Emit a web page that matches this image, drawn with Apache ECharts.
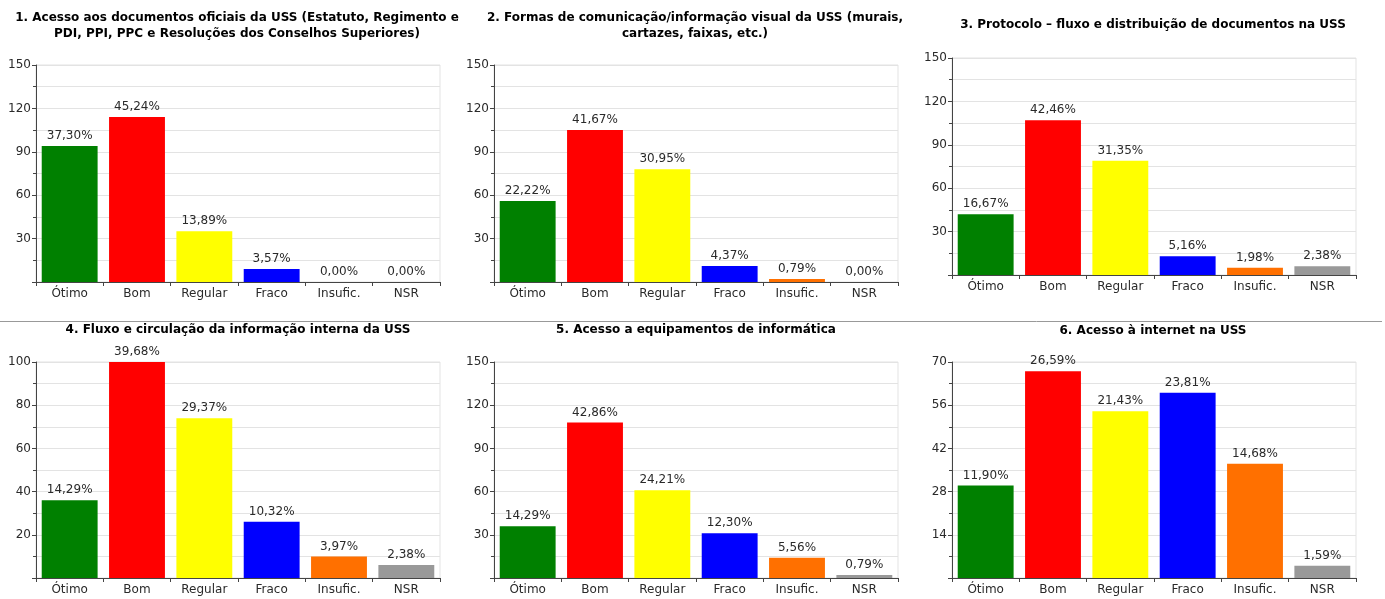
<!DOCTYPE html>
<html>
<head>
<meta charset="utf-8">
<script src="https://cdn.jsdelivr.net/npm/echarts@6/dist/echarts.min.js"></script>
<style>
html,body{margin:0;padding:0;background:#fff;}
#chart{width:1385px;height:599px;}
</style>
</head>
<body>
<div id="chart"></div>
<script>
var categories = ['Ótimo', 'Bom', 'Regular', 'Fraco', 'Insufic.', 'NSR'];
var barColors = ['#008000', '#ff0000', '#ffff00', '#0000ff', '#ff7000', '#999999'];

var titles = [
  '1. Acesso aos documentos oficiais da USS (Estatuto, Regimento e\nPDI, PPI, PPC e Resoluções dos Conselhos Superiores)',
  '2. Formas de comunicação/informação visual da USS (murais,\ncartazes, faixas, etc.)',
  '3. Protocolo – fluxo e distribuição de documentos na USS',
  '4. Fluxo e circulação da informação interna da USS',
  '5. Acesso a equipamentos de informática',
  '6. Acesso à internet na USS'
];

var counts1 = [94, 114, 35, 9, 0, 0];
var counts2 = [56, 105, 78, 11, 2, 0];
var counts3 = [42, 107, 79, 13, 5, 6];
var counts4 = [36, 100, 74, 26, 10, 6];
var counts5 = [36, 108, 61, 31, 14, 2];
var counts6 = [30, 67, 54, 60, 37, 4];

var pct1 = ['37,30%', '45,24%', '13,89%', '3,57%', '0,00%', '0,00%'];
var pct2 = ['22,22%', '41,67%', '30,95%', '4,37%', '0,79%', '0,00%'];
var pct3 = ['16,67%', '42,46%', '31,35%', '5,16%', '1,98%', '2,38%'];
var pct4 = ['14,29%', '39,68%', '29,37%', '10,32%', '3,97%', '2,38%'];
var pct5 = ['14,29%', '42,86%', '24,21%', '12,30%', '5,56%', '0,79%'];
var pct6 = ['11,90%', '26,59%', '21,43%', '23,81%', '14,68%', '1,59%'];

var yMax = [150, 150, 150, 100, 150, 70];
var yInterval = [30, 30, 30, 20, 30, 14];

var allCounts = [counts1, counts2, counts3, counts4, counts5, counts6];
var allPct = [pct1, pct2, pct3, pct4, pct5, pct6];

// layout
var grids = [
  {left: 36, top: 65, width: 404, height: 217},
  {left: 494, top: 65, width: 404, height: 217},
  {left: 952, top: 58, width: 404, height: 217},
  {left: 36, top: 362, width: 404, height: 216},
  {left: 494, top: 362, width: 404, height: 216},
  {left: 952, top: 362, width: 404, height: 216}
];
var titlePos = [
  {x: 237, y: 10}, {x: 695, y: 10}, {x: 1153, y: 17},
  {x: 238, y: 322}, {x: 696, y: 322}, {x: 1153, y: 323}
];

var FONT = 'DejaVu Sans';
var lineC = '#e3e3e3';
var axisC = '#444444';
var textC = '#2a2a2a';

var option = {
  backgroundColor: '#ffffff',
  animation: false,
  title: [], grid: [], xAxis: [], yAxis: [], series: [],
  graphic: [{
    type: 'line',
    shape: {x1: 0, y1: 321.5, x2: 1382, y2: 321.5},
    style: {stroke: '#999999', lineWidth: 1}
  }]
};

for (var i = 0; i < 6; i++) {
  option.title.push({
    text: titles[i],
    left: titlePos[i].x,
    top: titlePos[i].y,
    padding: 0,
    textAlign: 'center',
    textStyle: {fontFamily: FONT, fontWeight: 'bold', fontSize: 12, color: '#000', lineHeight: 16}
  });
  option.grid.push({
    left: grids[i].left, top: grids[i].top, width: grids[i].width, height: grids[i].height,
    show: true, borderColor: lineC, borderWidth: 1, backgroundColor: 'transparent'
  });
  option.xAxis.push({
    type: 'category', gridIndex: i, data: categories,
    axisLine: {lineStyle: {color: axisC, width: 1}},
    axisTick: {show: true, length: 4, lineStyle: {color: axisC}},
    axisLabel: {color: textC, fontFamily: FONT, fontSize: 12, margin: 6}
  });
  option.yAxis.push({
    type: 'value', gridIndex: i, min: 0, max: yMax[i], interval: yInterval[i],
    axisLine: {show: true, lineStyle: {color: axisC, width: 1}},
    axisTick: {show: true, length: 4, lineStyle: {color: axisC}},
    minorTick: {show: true, splitNumber: 2, length: 3, lineStyle: {color: axisC}},
    splitLine: {show: true, lineStyle: {color: lineC, width: 1}},
    minorSplitLine: {show: true, lineStyle: {color: lineC, width: 1}},
    axisLabel: {color: textC, fontFamily: FONT, fontSize: 12, margin: 5, showMinLabel: false,
      formatter: function (v) { return v === 0 ? '' : String(v); }}
  });
  (function (idx) {
    option.series.push({
      type: 'bar', xAxisIndex: idx, yAxisIndex: idx,
      barCategoryGap: '17%',
      data: allCounts[idx].map(function (v, k) {
        return {value: v, itemStyle: {color: barColors[k]}};
      }),
      label: {
        show: true, position: 'top', distance: 4,
        color: textC, fontFamily: FONT, fontSize: 12,
        formatter: function (p) { return allPct[idx][p.dataIndex]; }
      }
    });
  })(i);
}

var chart = echarts.init(document.getElementById('chart'), null, {renderer: 'canvas'});
chart.setOption(option);
</script>
</body>
</html>
